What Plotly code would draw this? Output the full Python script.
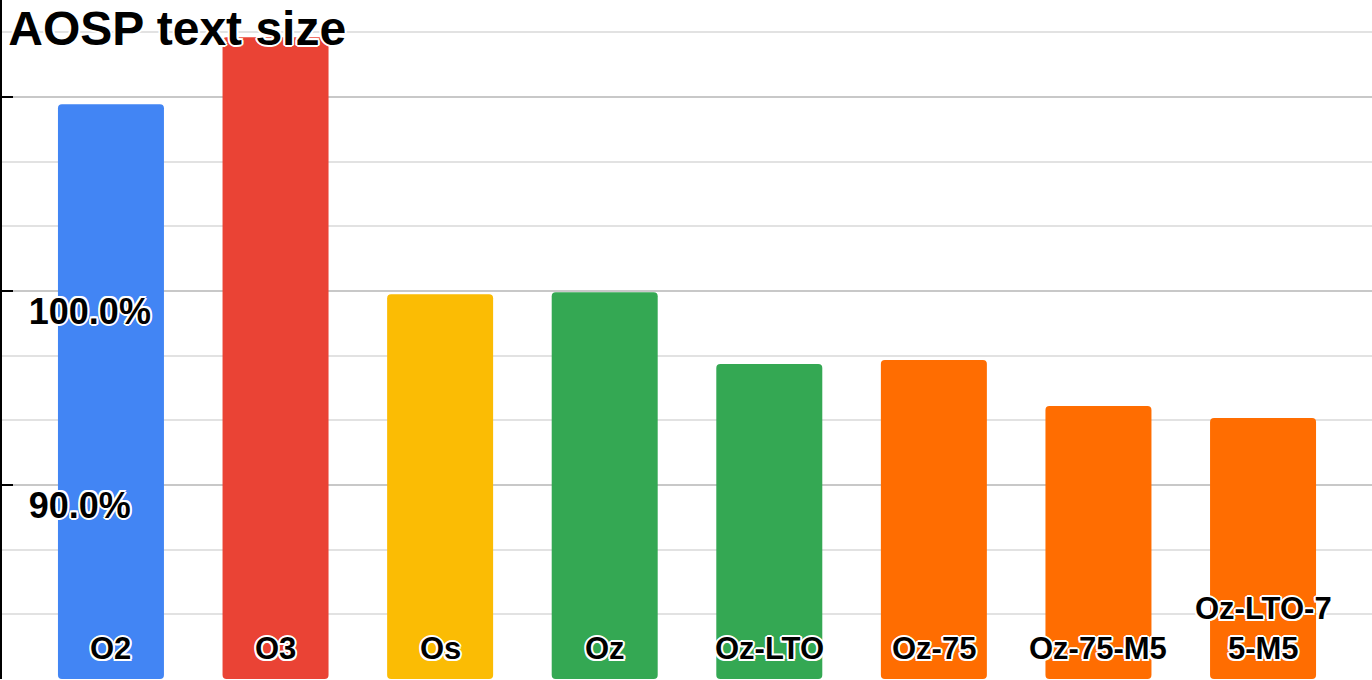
import plotly.graph_objects as go

# AOSP text size relative to Os build (percent)
builds = ["O2", "O3", "Os", "Oz", "Oz-LTO", "Oz-75", "Oz-75-M5", "Oz-LTO-75-M5"]
bar_labels = ["O2", "O3", "Os", "Oz", "Oz-LTO", "Oz-75", "Oz-75-M5", "Oz-LTO-7<br>5-M5"]
text_size = [109.63, 113.08, 99.83, 99.93, 96.24, 96.44, 94.07, 93.45]
bar_colors = ["#4285F4", "#EA4335", "#FBBC04", "#34A853", "#34A853",
              "#FF6D01", "#FF6D01", "#FF6D01"]

axis_floor = 80
tick_vals = [80, 90, 100, 110]
tick_text = ["", "90.0%", "100.0%", ""]

halo = ("2px 0 0 white, -2px 0 0 white, 0 2px 0 white, 0 -2px 0 white, "
        "1.5px 1.5px 0 white, -1.5px -1.5px 0 white, 1.5px -1.5px 0 white, -1.5px 1.5px 0 white")
font_family = "Liberation Sans, Arial, sans-serif"

# bars start at the bottom of the axis (80%), like the original chart
fig = go.Figure()
fig.add_trace(
    go.Bar(
        x=builds,
        y=[v - axis_floor for v in text_size],
        base=axis_floor,
        width=0.644,
        marker=dict(color=bar_colors, cornerradius=4, line=dict(width=0)),
        customdata=text_size,
        hovertemplate="%{x}: %{customdata:.1f}%<extra></extra>",
    )
)

# category labels sit at the foot of each bar
for b, lab in zip(builds, bar_labels):
    fig.add_annotation(
        x=b, y=axis_floor, xref="x", yref="y",
        text=lab, showarrow=False,
        xanchor="center", yanchor="bottom", yshift=11, align="center",
        font=dict(family=font_family, size=31, color="black", weight="bold", shadow=halo),
    )

fig.update_layout(
    width=1372,
    height=680,
    margin=dict(l=2, r=0, t=0, b=1, autoexpand=False),
    paper_bgcolor="white",
    plot_bgcolor="white",
    showlegend=False,
    title=dict(
        text="AOSP text size",
        x=0.006, xref="container", xanchor="left",
        y=1 - 28 / 680, yref="container", yanchor="middle",
        pad=dict(l=0, t=0, b=0, r=0),
        font=dict(family=font_family, size=48, color="black", weight="bold", shadow=halo),
    ),
    xaxis=dict(
        range=[-0.662, 7.662],
        showticklabels=False,
        showgrid=False,
        zeroline=False,
        showline=False,
        ticks="",
    ),
    yaxis=dict(
        range=[80, 115],
        tickmode="array",
        tickvals=tick_vals,
        ticktext=tick_text,
        ticklabelposition="inside",
        ticklabelstandoff=20,
        ticklabelshift=20,
        tickfont=dict(family=font_family, size=36, color="black", weight="bold", shadow=halo),
        ticks="inside",
        ticklen=11,
        tickwidth=2,
        tickcolor="black",
        showline=True,
        linecolor="black",
        linewidth=2,
        showgrid=True,
        gridcolor="#c8c8c8",
        gridwidth=1.5,
        zeroline=False,
        automargin=False,
        minor=dict(
            tickmode="linear",
            tick0=80,
            dtick=10 / 3,
            showgrid=True,
            gridcolor="#e2e2e2",
            gridwidth=1.5,
            ticks="",
        ),
    ),
)

# the page's default body margin would push the figure off the window
fig.write_html("out.html", config={"displayModeBar": False},
               post_script="document.body.style.margin = '0';")
